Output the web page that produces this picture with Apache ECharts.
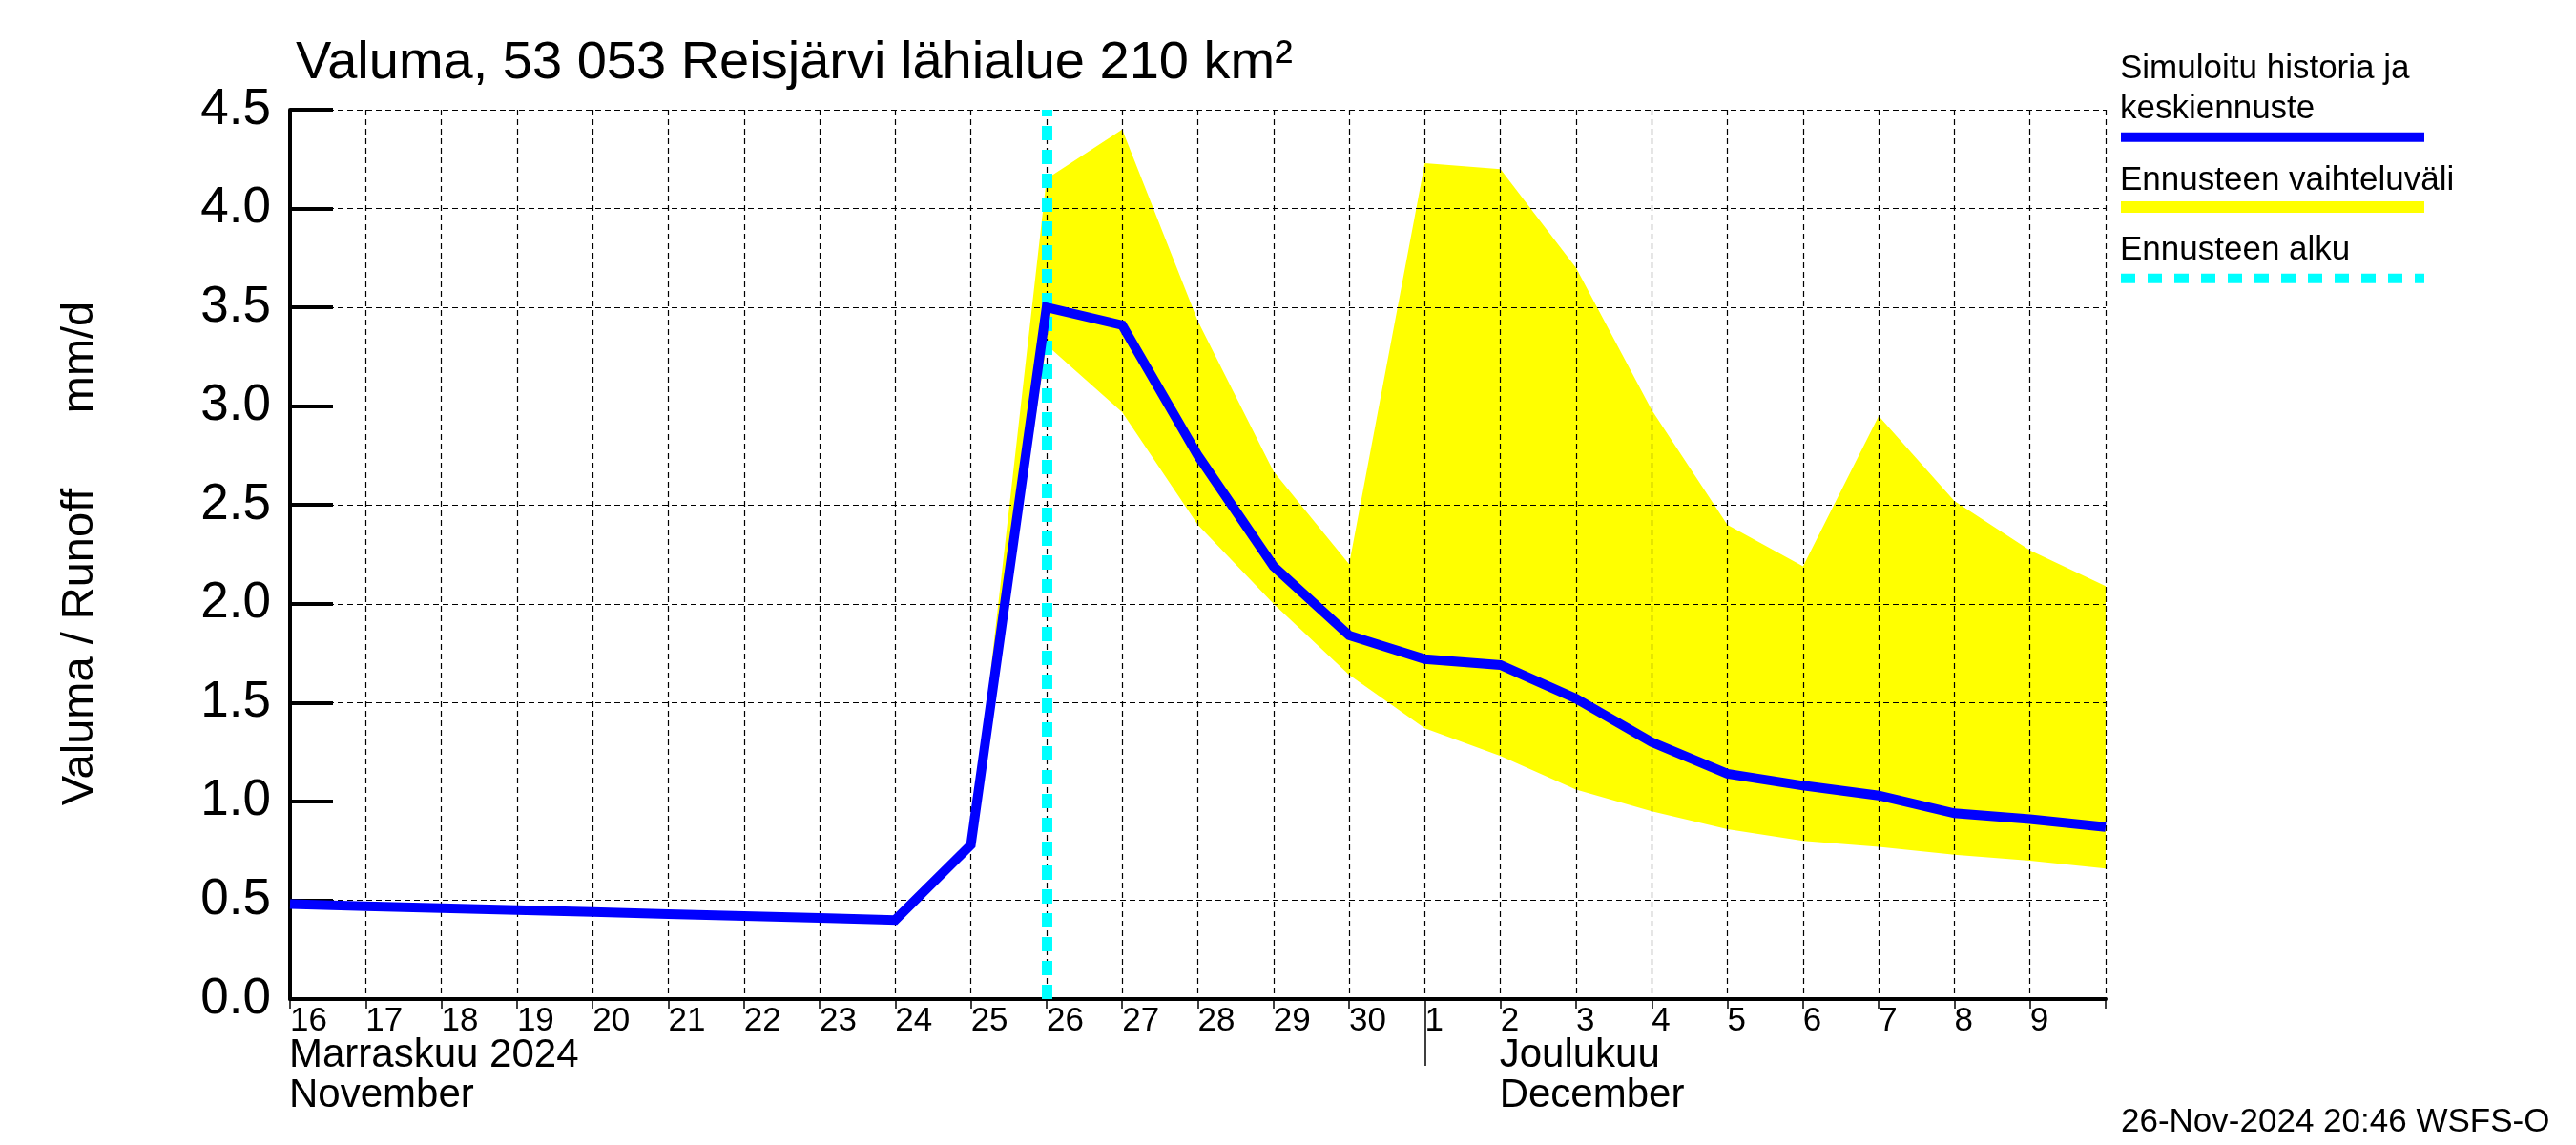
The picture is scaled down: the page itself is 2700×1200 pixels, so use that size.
<!DOCTYPE html>
<html>
<head>
<meta charset="utf-8">
<script src="https://cdn.jsdelivr.net/npm/echarts@6/dist/echarts.min.js"></script>
<style>
html,body{margin:0;padding:0;background:#fff;}
#chart{width:2700px;height:1200px;}
</style>
</head>
<body>
<div id="chart"></div>
<script>
// ---- data ----
const dates = ['2024-11-16','2024-11-17','2024-11-18','2024-11-19','2024-11-20','2024-11-21','2024-11-22','2024-11-23','2024-11-24','2024-11-25','2024-11-26','2024-11-27','2024-11-28','2024-11-29','2024-11-30','2024-12-01','2024-12-02','2024-12-03','2024-12-04','2024-12-05','2024-12-06','2024-12-07','2024-12-08','2024-12-09','2024-12-10'];
const dayLabels = ['16','17','18','19','20','21','22','23','24','25','26','27','28','29','30','1','2','3','4','5','6','7','8','9',''];
const simulated = [0.48,0.47,0.46,0.45,0.44,0.43,0.42,0.41,0.40,0.78,3.50,3.41,2.75,2.19,1.84,1.72,1.69,1.52,1.30,1.14,1.08,1.03,0.94,0.91,0.87];
const rangeUpper = [null,null,null,null,null,null,null,null,null,0.78,4.15,4.40,3.43,2.67,2.20,4.23,4.20,3.70,2.98,2.40,2.19,2.95,2.52,2.27,2.09];
const rangeLower = [null,null,null,null,null,null,null,null,null,0.78,3.31,2.97,2.40,2.00,1.64,1.37,1.23,1.06,0.95,0.86,0.80,0.77,0.73,0.70,0.66];
const forecastStart = '2024-11-26';
const monthBreak = '2024-12-01';
const yTicks = {min:0, max:4.5, interval:0.5};
const titleText = 'Valuma, 53 053 Reisjärvi lähialue 210 km²';
const yTitle = 'Valuma / Runoff      mm/d';
const monthLabels = [
  {date:'2024-11-16', lines:['Marraskuu 2024','November']},
  {date:'2024-12-02', lines:['Joulukuu','December']}
];
const legendItems = ['Simuloitu historia ja\nkeskiennuste','Ennusteen vaihteluväli','Ennusteen alku'];
const stamp = '26-Nov-2024 20:46 WSFS-O';

const rangeDiff = rangeUpper.map((u,i)=> (u==null||rangeLower[i]==null)?null:+(u-rangeLower[i]).toFixed(3));
const FONT = 'Liberation Sans, Arial, Helvetica, sans-serif';

const chart = echarts.init(document.getElementById('chart'), null, {renderer:'canvas'});
const gridLine = {show:true, lineStyle:{color:'#000', width:1.2, type:[6,4]}};

chart.setOption({
  animation:false,
  backgroundColor:'#fff',
  textStyle:{fontFamily:FONT},
  grid:{left:304, right:493, top:115, bottom:153, containLabel:false},
  xAxis:[{
    type:'category', data:dates, boundaryGap:false, z:1,
    axisLine:{show:true, lineStyle:{color:'#000', width:4}},
    axisTick:{show:true, inside:false, length:10, interval:0, lineStyle:{color:'#000', width:1.5}},
    axisLabel:{show:true, interval:0, align:'left', margin:6, fontSize:35, color:'#000', fontFamily:FONT,
      formatter:(v,i)=>dayLabels[i]},
    splitLine:Object.assign({interval:0}, gridLine)
  },{
    type:'category', data:dates, boundaryGap:false, position:'bottom', z:1,
    axisLine:{show:false},
    axisTick:{show:true, inside:false, length:70, interval:(i,v)=>v===monthBreak, lineStyle:{color:'#000', width:1.5}},
    axisLabel:{show:false},
    splitLine:{show:false}
  }],
  yAxis:{
    type:'value', min:yTicks.min, max:yTicks.max, interval:yTicks.interval, z:1,
    axisLine:{show:true, lineStyle:{color:'#000', width:4}},
    axisTick:{show:true, inside:true, length:45, lineStyle:{color:'#000', width:4}},
    axisLabel:{show:true, margin:20, fontSize:53, color:'#000', fontFamily:FONT, formatter:v=>v.toFixed(1)},
    splitLine:gridLine
  },
  series:[
    {type:'line', name:'lower', data:rangeLower, stack:'band', symbol:'none', silent:true, z:0,
      lineStyle:{width:0, opacity:0}},
    {type:'line', name:'range', data:rangeDiff, stack:'band', symbol:'none', silent:true, z:0,
      lineStyle:{width:0, opacity:0}, areaStyle:{color:'#FFFF00', opacity:1}},
    {type:'line', name:'start', data:[], symbol:'none', silent:true, z:3,
      markLine:{symbol:['none','none'], silent:true, label:{show:false},
        lineStyle:{color:'#00FFFF', width:11, type:[15,10]},
        data:[{xAxis:forecastStart}]}},
    {type:'line', name:'sim', data:simulated, symbol:'none', silent:true, z:5,
      lineStyle:{color:'#0000FF', width:10, join:'miter'}}
  ]
});

function px(date){ return chart.convertToPixel({xAxisIndex:0}, date); }

const g = [];
g.push({type:'text', x:310, y:67, style:{text:titleText, font:'56px '+FONT, fill:'#000', align:'left', verticalAlign:'middle'}});
g.push({type:'text', x:84, y:580, rotation:Math.PI/2, style:{text:yTitle, font:'47px '+FONT, fill:'#000', align:'center', verticalAlign:'middle'}});
monthLabels.forEach(m=>{
  const x = px(m.date) - 1;
  g.push({type:'text', x:x, y:1106, style:{text:m.lines[0], font:'42px '+FONT, fill:'#000', align:'left', verticalAlign:'middle'}});
  g.push({type:'text', x:x, y:1148, style:{text:m.lines[1], font:'42px '+FONT, fill:'#000', align:'left', verticalAlign:'middle'}});
});
// legend
const L = 2222;
const lg = legendItems[0].split('\n');
g.push({type:'text', x:L, y:72, style:{text:lg[0], font:'35px '+FONT, fill:'#000', align:'left', verticalAlign:'middle'}});
g.push({type:'text', x:L, y:114.5, style:{text:lg[1], font:'35px '+FONT, fill:'#000', align:'left', verticalAlign:'middle'}});
g.push({type:'line', shape:{x1:2223, y1:143.7, x2:2541, y2:143.7}, style:{stroke:'#0000FF', lineWidth:10}});
g.push({type:'text', x:L, y:189, style:{text:legendItems[1], font:'35px '+FONT, fill:'#000', align:'left', verticalAlign:'middle'}});
g.push({type:'line', shape:{x1:2223, y1:217, x2:2541, y2:217}, style:{stroke:'#FFFF00', lineWidth:12}});
g.push({type:'text', x:L, y:262, style:{text:legendItems[2], font:'35px '+FONT, fill:'#000', align:'left', verticalAlign:'middle'}});
g.push({type:'line', shape:{x1:2223, y1:291.7, x2:2541, y2:291.7}, style:{stroke:'#00FFFF', lineWidth:10, lineDash:[15,13]}});
g.push({type:'text', x:2223, y:1176, style:{text:stamp, font:'35px '+FONT, fill:'#000', align:'left', verticalAlign:'middle'}});
chart.setOption({graphic:{elements:g}});
</script>
</body>
</html>
